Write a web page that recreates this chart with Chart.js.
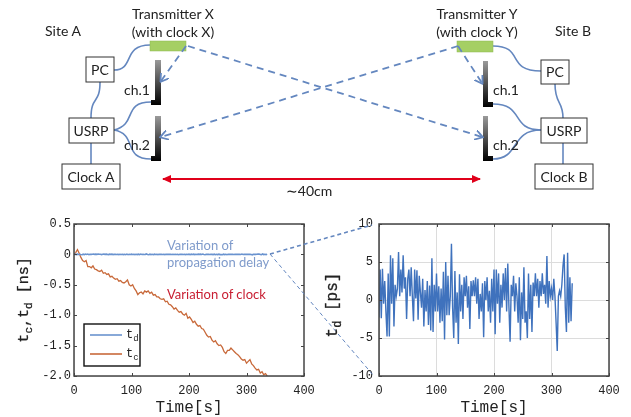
<!DOCTYPE html>
<html>
<head>
<meta charset="utf-8">
<script src="https://cdn.jsdelivr.net/npm/chart.js@4"></script>
<style>
html, body { margin: 0; padding: 0; background: #fff; }
#page { position: relative; width: 631px; height: 417px; overflow: hidden; filter: blur(0.35px); }
.plot { position: absolute; top: 205px; height: 212px; }
#left { left: 0; width: 315px; }
#right { left: 315px; width: 316px; }
#sketch { position: absolute; left: 0; top: 0; }
#sketch text { font-family: Lato, sans-serif; font-size: 14px; fill: #222; text-anchor: middle; }
#sketch .note { font-size: 13px; text-anchor: start; }
#sketch .mono { font-family: "Liberation Mono", monospace; }
#sketch .box { fill: #fff; stroke: #333; stroke-width: 1; }
#sketch .wire { fill: none; stroke: #6487bf; stroke-width: 1.6; }
#sketch .ray { fill: none; stroke: #6487bf; stroke-width: 1.8; stroke-dasharray: 7 5; }
#sketch .zoom { fill: none; stroke: #6487bf; stroke-dasharray: 4 3; }
</style>
</head>
<body>
<div id="page">
  <div class="plot" id="left"><canvas id="clockChart" width="315" height="212"></canvas></div>
  <div class="plot" id="right"><canvas id="delayChart" width="316" height="212"></canvas></div>
  <svg id="sketch" width="631" height="417">
    <defs>
      <linearGradient id="ant" x1="0" y1="0" x2="0" y2="1">
        <stop offset="0" stop-color="#9a9a9a"/>
        <stop offset="1" stop-color="#000"/>
      </linearGradient>
      <marker id="blueHead" markerWidth="9" markerHeight="10" refX="7" refY="5" orient="auto" markerUnits="userSpaceOnUse">
        <path d="M0,0 L8,5 L0,10" fill="none" stroke="#6487bf" stroke-width="1.8"/>
      </marker>
      <marker id="redHead" markerWidth="10" markerHeight="8" refX="8" refY="4" orient="auto-start-reverse" markerUnits="userSpaceOnUse">
        <path d="M0,0 L9,4 L0,8 Z" fill="#e0001a"/>
      </marker>
    </defs>

    <!-- wires -->
    <path class="wire" d="M114,70 C135,70 122,45 150,45"/>
    <path class="wire" d="M100,82 C100,105 91,95 91,118"/>
    <path class="wire" d="M114,130 C138,124 122,102 151,102"/>
    <path class="wire" d="M114,130 C138,134 122,159 151,159"/>
    <path class="wire" d="M91,143 L91,164"/>
    <path class="wire" d="M493,46 C525,46 505,71 541,71"/>
    <path class="wire" d="M555,84 C555,105 563,100 563,118"/>
    <path class="wire" d="M493,104 C525,104 510,130 541,130"/>
    <path class="wire" d="M493,159 C520,159 510,130 541,130"/>
    <path class="wire" d="M563,143 L563,164"/>

    <!-- boxes -->
    <rect class="box" x="86" y="57" width="28" height="25"/>
    <rect class="box" x="69" y="118" width="45" height="25"/>
    <rect class="box" x="62" y="164" width="58" height="25"/>
    <rect class="box" x="541" y="60" width="28" height="24"/>
    <rect class="box" x="541" y="118" width="46" height="25"/>
    <rect class="box" x="535" y="164" width="58" height="25"/>

    <!-- transmitters -->
    <rect x="150" y="41" width="36" height="10" fill="#a5cf64" stroke="#8cb74f" stroke-width="0.5"/>
    <rect x="457" y="41" width="36" height="11" fill="#a5cf64" stroke="#8cb74f" stroke-width="0.5"/>

    <!-- antennas -->
    <path fill="url(#ant)" d="M155,60 H161 V105 H151 V100 H155 Z"/>
    <path fill="url(#ant)" d="M155,116 H161 V161 H151 V156 H155 Z"/>
    <path fill="url(#ant)" d="M483,61 H488 V102 H493 V107 H483 Z"/>
    <path fill="url(#ant)" d="M483,116 H488 V156 H493 V161 H483 Z"/>

    <!-- dashed radio paths -->
    <path class="ray" marker-end="url(#blueHead)" d="M186,46 L161,81"/>
    <path class="ray" marker-end="url(#blueHead)" d="M188,46 L482,137"/>
    <path class="ray" marker-end="url(#blueHead)" d="M458,46 L161,137"/>
    <path class="ray" marker-end="url(#blueHead)" d="M458,46 L482,83"/>

    <!-- distance arrow -->
    <line x1="163" y1="179" x2="480" y2="179" stroke="#e0001a" stroke-width="1.8" marker-start="url(#redHead)" marker-end="url(#redHead)"/>

    <text x="63" y="36">Site A</text>
    <text x="173" y="19">Transmitter X</text>
    <text x="173" y="37">(with clock X)</text>
    <text x="100" y="75">PC</text>
    <text x="91" y="136">USRP</text>
    <text x="91" y="182">Clock A</text>
    <text x="137" y="95">ch.1</text>
    <text x="137" y="150">ch.2</text>
    <text x="477" y="19">Transmitter Y</text>
    <text x="477" y="37">(with clock Y)</text>
    <text x="573" y="36">Site B</text>
    <text x="555" y="77">PC</text>
    <text x="564" y="136">USRP</text>
    <text x="564" y="182">Clock B</text>
    <text x="506" y="95">ch.1</text>
    <text x="506" y="150">ch.2</text>
    <text x="309" y="196">∼40cm</text>

    <!-- zoom guide between the two plots -->
    <path class="zoom" stroke-width="1.6" d="M270,254 L372,225"/>
    <path class="zoom" stroke-width="1" d="M270,254 L373,375"/>

    <!-- notes on the left plot -->
    <text class="note" x="167" y="250" style="fill:#7f9bcb">Variation of</text>
    <text class="note" x="167" y="267" style="fill:#7f9bcb">propagation delay</text>
    <text class="note" x="167" y="299" style="fill:#c81e32">Variation of clock</text>

    <!-- legend -->
    <rect x="84" y="324" width="56" height="42" fill="#fff" stroke="#111" stroke-width="1.4"/>
    <line x1="90" y1="335" x2="122" y2="335" stroke="#6a93cf" stroke-width="1.6"/>
    <line x1="90" y1="354" x2="122" y2="354" stroke="#c8693a" stroke-width="1.6"/>
    <text class="mono" x="126" y="338" style="text-anchor:start;font-size:12px">t<tspan dy="3" font-size="9">d</tspan></text>
    <text class="mono" x="126" y="357" style="text-anchor:start;font-size:12px">t<tspan dy="3" font-size="9">c</tspan></text>

    <!-- y axis titles, need subscripts -->
    <text class="mono" transform="translate(28,300) rotate(-90)" style="font-size:15px;stroke:#222;stroke-width:0.3">t<tspan dy="4" font-size="11">c</tspan><tspan dy="-4">,t</tspan><tspan dy="4" font-size="11">d</tspan><tspan dy="-4"> [ns]</tspan></text>
    <text class="mono" transform="translate(337,305) rotate(-90)" style="font-size:16px;stroke:#222;stroke-width:0.3">t<tspan dy="4" font-size="12">d</tspan><tspan dy="-4"> [ps]</tspan></text>
  </svg>
</div>
<script>
const xTicks = [0, 100, 200, 300, 400];
const clockTicks = [-2, -1.5, -1, -0.5, 0, 0.5];
const delayTicks = [-10, -5, 0, 5, 10];

// t_c in ns, one reading every 3 s
const clockStep = 3;
const clockNs = [
    0, 0.03, 0.08, 0.02, -0.05, -0.1, -0.12, -0.1, -0.2, -0.2,
    -0.22, -0.19, -0.24, -0.25, -0.27, -0.28, -0.26, -0.31, -0.3, -0.33,
    -0.32, -0.37, -0.36, -0.39, -0.41, -0.4, -0.44, -0.43, -0.46, -0.47,
    -0.45, -0.42, -0.5, -0.52, -0.5, -0.56, -0.6, -0.66, -0.63, -0.62,
    -0.65, -0.6, -0.62, -0.6, -0.64, -0.62, -0.67, -0.66, -0.7, -0.7,
    -0.73, -0.74, -0.73, -0.78, -0.77, -0.82, -0.83, -0.86, -0.9, -0.88,
    -0.92, -0.95, -0.94, -0.98, -1, -0.97, -1.05, -1.03, -1.07, -1.12,
    -1.1, -1.15, -1.18, -1.17, -1.22, -1.23, -1.28, -1.33, -1.36, -1.35,
    -1.41, -1.44, -1.42, -1.47, -1.5, -1.49, -1.53, -1.6, -1.63, -1.58,
    -1.58, -1.54, -1.57, -1.6, -1.63, -1.65, -1.68, -1.72, -1.74, -1.73,
    -1.79, -1.76, -1.73, -1.8, -1.83, -1.87, -1.9, -1.89, -1.95, -1.93,
    -1.98, -1.96, -2,
];

// t_d in ps, one reading every 2 s
const delayStep = 2;
const delayPs = [
    -2.3, 4, -2.4, 4.1, -0.5, 2.5, -1.5, -4.8, 3.5, -4.8,
    5.9, -0.5, 5.5, -3.5, 2, 0.5, 1.5, 6.3, 0.5, 4,
    1, 5.9, 1.5, 3, -2.5, 2.8, 4, 0.5, 4.3, 0.5,
    -2.8, 4, 0.2, 3.9, -2.6, 3.2, 1, -1, 2.8, -3.5,
    1.3, -1.5, 2.5, -3.3, 1.9, -4, 5.5, -4.2, 2, -1.5,
    3.5, -1.5, 1.8, -3, 1.5, -2.8, 3.7, -5.2, 5, -2,
    3.2, -2, 0.5, 7.4, -1, -5, 3.8, -3, 1, -5.8,
    3.4, -1.5, 2, -2.5, 3, 0.5, 3.2, -1, 1.8, -3.8,
    2.5, 0.5, 2.6, 0.5, 3, -0.5, 2.8, -2.5, 0.8, -1.5,
    2.2, -4.9, 2.5, 0, 3, -1.5, 1.2, -3, 2.8, -1.5,
    4, -4.5, 4, -0.5, 3.5, -3, 2, -1, 3.5, 0,
    4.2, -1.5, 4.8, -1, -5.5, 2, 0.5, 3.2, -1.5, 2.2,
    0.5, -3, 3, -5.3, 1, -2.5, 4.3, -3, -1.5, -5,
    3.5, -2.5, 2, -4.2, 2.3, 0.5, 3.5, 0.5, 2.8, -1,
    2.5, 0.5, 3.5, 0.8, 2, -0.5, 5.8, -1, 2.5, 0.5,
    1.5, 0, 2.8, 0.5, -3, -6.7, 0.5, 1.2, 0.5, 2,
    4.5, 6, -1, -4.2, 6.2, -3, 3, -2.8, 2.2,
];

const monoFont = { family: '"Liberation Mono", monospace', size: 12 };

// Matlab style frame: box round the plot and ticks pointing inwards on all sides
const matlabFrame = {
    id: 'matlabFrame',
    afterDatasetsDraw(chart) {
        const { ctx, chartArea: a, scales } = chart;
        ctx.save();
        ctx.strokeStyle = '#444';
        ctx.lineWidth = 1;
        ctx.beginPath();
        scales.x.ticks.forEach((t) => {
            const px = Math.round(scales.x.getPixelForValue(t.value)) + 0.5;
            ctx.moveTo(px, a.top);
            ctx.lineTo(px, a.top + 3);
            ctx.moveTo(px, a.bottom);
            ctx.lineTo(px, a.bottom - 3);
        });
        scales.y.ticks.forEach((t) => {
            const py = Math.round(scales.y.getPixelForValue(t.value)) + 0.5;
            ctx.moveTo(a.left, py);
            ctx.lineTo(a.left + 3, py);
            ctx.moveTo(a.right, py);
            ctx.lineTo(a.right - 3, py);
        });
        ctx.stroke();
        ctx.lineWidth = 1.5;
        ctx.strokeRect(a.left, a.top, a.right - a.left, a.bottom - a.top);
        ctx.restore();
    },
};

function plotOptions(yTicks, gridOn, yWidth, right, yPad) {
    return {
        responsive: false,
        animation: false,
        layout: { padding: { top: 19, right } },
        plugins: { legend: { display: false }, tooltip: { enabled: false } },
        elements: { point: { radius: 0 } },
        scales: {
            x: {
                type: 'linear',
                min: 0,
                max: 400,
                afterBuildTicks: (axis) => { axis.ticks = xTicks.map((value) => ({ value })); },
                afterFit: (axis) => {
                    axis.height = 41;
                    axis.paddingLeft = 0;
                    axis.paddingRight = 0;
                },
                grid: { display: gridOn, color: '#dcdcdc', drawTicks: false },
                ticks: { font: monoFont, color: '#222', padding: 8, maxRotation: 0 },
                title: { display: true, text: 'Time[s]', color: '#222', padding: 0, font: { family: monoFont.family, size: 16 } },
            },
            y: {
                type: 'linear',
                min: yTicks[0],
                max: yTicks[yTicks.length - 1],
                afterBuildTicks: (axis) => { axis.ticks = yTicks.map((value) => ({ value })); },
                afterFit: (axis) => {
                    axis.width = yWidth;
                    axis.paddingTop = 0;
                    axis.paddingBottom = 0;
                },
                grid: { display: gridOn, color: '#dcdcdc', drawTicks: false },
                ticks: { font: monoFont, color: '#222', padding: yPad },
            },
        },
    };
}

new Chart(document.getElementById('clockChart'), {
    type: 'line',
    data: {
        datasets: [
            {
                label: 'td',
                data: delayPs.map((v, i) => ({ x: i * delayStep, y: v / 1000 })),
                borderColor: '#6a93cf',
                borderWidth: 1.6,
            },
            {
                label: 'tc',
                data: clockNs.map((v, i) => ({ x: i * clockStep, y: v })),
                borderColor: '#c8693a',
                borderWidth: 1.3,
            },
        ],
    },
    options: plotOptions(clockTicks, false, 74, 11, 3),
    plugins: [matlabFrame],
});

new Chart(document.getElementById('delayChart'), {
    type: 'line',
    data: {
        datasets: [{
            label: 'td',
            data: delayPs.map((v, i) => ({ x: i * delayStep, y: v })),
            borderColor: '#3f72bd',
            borderWidth: 1.4,
        }],
    },
    options: plotOptions(delayTicks, true, 64, 22, 6),
    plugins: [matlabFrame],
});
</script>
</body>
</html>
